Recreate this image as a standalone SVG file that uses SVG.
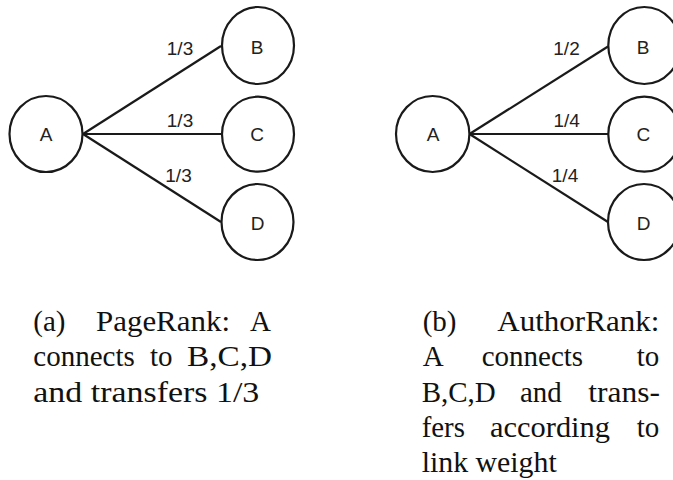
<svg xmlns="http://www.w3.org/2000/svg" width="673" height="480" viewBox="0 0 673 480">
<style>
.node{fill:#fff;stroke:#1a1a1a;stroke-width:2.2}
.edge{stroke:#1a1a1a;stroke-width:2.2;fill:none}
.lbl{font-family:"Liberation Sans",Arial,sans-serif;font-size:19px;fill:#222;text-anchor:middle}
.cap{font-family:"Liberation Serif","Times New Roman",serif;font-size:29px;fill:#111}
</style>
<rect width="673" height="480" fill="#fff"/>
<g id="connectors">
<line class="edge" x1="83" y1="134" x2="221" y2="46"/>
<line class="edge" x1="83" y1="134" x2="221" y2="134"/>
<line class="edge" x1="83" y1="134" x2="221" y2="222"/>
<line class="edge" x1="469.5" y1="134" x2="608" y2="46.5"/>
<line class="edge" x1="469.5" y1="134" x2="608" y2="134"/>
<line class="edge" x1="469.5" y1="134" x2="608" y2="222"/>
<text class="lbl" x="180" y="55">1/3</text>
<text class="lbl" x="180" y="127.3">1/3</text>
<text class="lbl" x="178.5" y="181.5">1/3</text>
<text class="lbl" x="566.5" y="55">1/2</text>
<text class="lbl" x="566.7" y="127.3">1/4</text>
<text class="lbl" x="565" y="181.5">1/4</text>
</g>
<g id="a-A"><ellipse class="node" cx="46" cy="134" rx="36.5" ry="38"/><text class="lbl" x="46" y="140.5">A</text></g>
<g id="a-B"><ellipse class="node" cx="258" cy="45.5" rx="36" ry="38.5"/><text class="lbl" x="257" y="53.5">B</text></g>
<g id="a-C"><ellipse class="node" cx="258" cy="134.2" rx="36" ry="37.5"/><text class="lbl" x="257" y="140.5">C</text></g>
<g id="a-D"><ellipse class="node" cx="257.5" cy="222" rx="36" ry="38"/><text class="lbl" x="257.5" y="230">D</text></g>
<g id="b-A"><ellipse class="node" cx="432.7" cy="134" rx="36.7" ry="38"/><text class="lbl" x="433" y="140.5">A</text></g>
<g id="b-B"><ellipse class="node" cx="644.3" cy="45.5" rx="36" ry="38.5"/><text class="lbl" x="643" y="53.5">B</text></g>
<g id="b-C"><ellipse class="node" cx="644.3" cy="134.2" rx="36" ry="37.5"/><text class="lbl" x="643.3" y="140.5">C</text></g>
<g id="b-D"><ellipse class="node" cx="644" cy="222" rx="36" ry="38"/><text class="lbl" x="643.5" y="230">D</text></g>
<g id="caption-a" class="cap">
<text x="33.3" y="331">(a)</text>
<text x="96" y="331" textLength="134" lengthAdjust="spacingAndGlyphs">PageRank:</text>
<text x="250" y="331">A</text>
<text x="33.3" y="366">connects</text>
<text x="150" y="366">to</text>
<text x="187" y="366" textLength="85" lengthAdjust="spacingAndGlyphs">B,C,D</text>
<text x="33.3" y="401.5" textLength="226" lengthAdjust="spacingAndGlyphs">and transfers 1/3</text>
</g>
<g id="caption-b" class="cap">
<text x="422.7" y="331">(b)</text>
<text x="497.3" y="331" textLength="162" lengthAdjust="spacingAndGlyphs">AuthorRank:</text>
<text x="422.7" y="366">A</text>
<text x="481.7" y="366">connects</text>
<text x="636.7" y="366">to</text>
<text x="421.7" y="401.5">B,C,D</text>
<text x="520" y="401.5" textLength="41.7" lengthAdjust="spacingAndGlyphs">and</text>
<text x="588.3" y="401.5" textLength="71.7" lengthAdjust="spacingAndGlyphs">trans-</text>
<text x="421.7" y="436.5" textLength="43.3" lengthAdjust="spacingAndGlyphs">fers</text>
<text x="490" y="436.5" textLength="120" lengthAdjust="spacingAndGlyphs">according</text>
<text x="636.7" y="436.5">to</text>
<text x="421.7" y="471.5" textLength="135" lengthAdjust="spacingAndGlyphs">link weight</text>
</g>
</svg>
